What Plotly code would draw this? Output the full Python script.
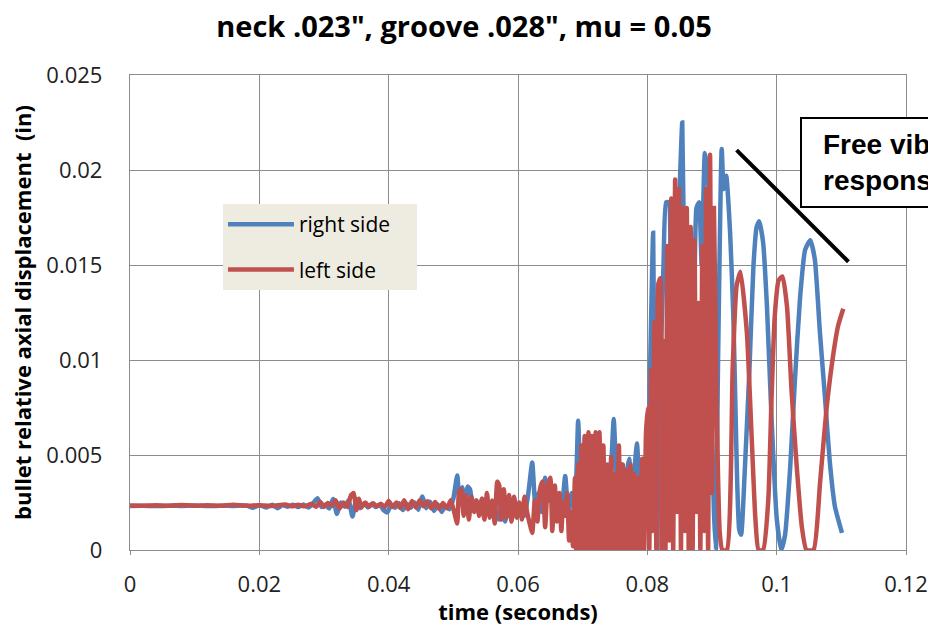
import plotly.graph_objects as go

# ---------------- data (time in s, displacement in in) ----------------
right_side = [
    (0.0000,0.00232),(0.0020,0.00233),(0.0040,0.00231),(0.0060,0.00233),(0.0080,0.00232),(0.0100,0.00234),
    (0.0120,0.00231),(0.0140,0.00233),(0.0160,0.00232),(0.0180,0.00234),(0.0190,0.00222),(0.0200,0.00236),
    (0.0210,0.00224),(0.0220,0.00238),(0.0228,0.00220),(0.0236,0.00236),(0.0244,0.00228),(0.0252,0.00238),
    (0.0260,0.00226),(0.0268,0.00240),(0.0276,0.00224),(0.0284,0.00250),(0.0290,0.00272),(0.0296,0.00226),
    (0.0302,0.00240),(0.0308,0.00218),(0.0314,0.00268),(0.0320,0.00190),(0.0326,0.00250),(0.0332,0.00228),
    (0.0338,0.00262),(0.0344,0.00176),(0.0350,0.00268),(0.0356,0.00220),(0.0362,0.00246),(0.0368,0.00224),
    (0.0374,0.00244),(0.0380,0.00226),(0.0386,0.00240),(0.0392,0.00210),(0.0398,0.00198),(0.0404,0.00240),
    (0.0410,0.00222),(0.0416,0.00246),(0.0422,0.00210),(0.0428,0.00244),(0.0434,0.00222),(0.0440,0.00250),
    (0.0446,0.00212),(0.0452,0.00282),(0.0458,0.00220),(0.0464,0.00254),(0.0470,0.00206),(0.0476,0.00240),
    (0.0482,0.00200),(0.0488,0.00232),(0.0494,0.00214),(0.0500,0.00270),(0.0506,0.00392),(0.0510,0.00240),
    (0.0514,0.00330),(0.0518,0.00200),(0.0522,0.00334),(0.0526,0.00318),(0.0530,0.00220),(0.0535,0.00260),
    (0.0540,0.00194),(0.0545,0.00270),(0.0550,0.00220),(0.0555,0.00250),(0.0560,0.00180),(0.0565,0.00210),
    (0.0570,0.00160),(0.0575,0.00272),(0.0580,0.00150),(0.0585,0.00230),(0.0590,0.00160),(0.0595,0.00260),
    (0.0600,0.00200),(0.0605,0.00230),(0.0610,0.00180),(0.0616,0.00300),(0.0622,0.00460),(0.0627,0.00230),
    (0.0632,0.00300),(0.0637,0.00200),(0.0642,0.00380),(0.0647,0.00260),(0.0652,0.00320),(0.0657,0.00180),
    (0.0662,0.00280),(0.0667,0.00200),(0.0673,0.00390),(0.0678,0.00180),(0.0683,0.00300),(0.0688,0.00250),
    (0.0693,0.00680),(0.0697,0.00350),(0.0701,0.00450),(0.0705,0.00200),(0.0709,0.00400),(0.0713,0.00250),
    (0.0717,0.00420),(0.0721,0.00200),(0.0725,0.00450),(0.0729,0.00550),(0.0733,0.00220),(0.0737,0.00400),
    (0.0741,0.00180),(0.0745,0.00500),(0.0748,0.00690),(0.0752,0.00400),(0.0756,0.00200),(0.0760,0.00450),
    (0.0764,0.00150),(0.0768,0.00400),(0.0772,0.00480),(0.0776,0.00250),(0.0780,0.00420),(0.0784,0.00560),
    (0.0788,0.00300),(0.0792,0.00100),(0.0796,0.00320),(0.0800,0.00220),(0.0804,0.00900),(0.0809,0.01670),
    (0.0812,0.00400),(0.0815,0.00000),(0.0819,0.00800),(0.0825,0.01500),(0.0829,0.01830),(0.0833,0.01830),
    (0.0836,0.01200),(0.0839,0.01800),(0.0843,0.00800),(0.0847,0.01600),(0.0851,0.02000),(0.0854,0.02250),
    (0.0858,0.01200),(0.0863,0.00400),(0.0868,0.00000),(0.0872,0.01000),(0.0876,0.01800),(0.0880,0.01830),
    (0.0884,0.01500),(0.0889,0.02090),(0.0894,0.01950),(0.0898,0.00900),(0.0903,0.00200),(0.0906,0.00000),
    (0.0909,0.00900),(0.0915,0.02110),(0.0918,0.01900),(0.0922,0.01970),(0.0928,0.01670),(0.0933,0.01230),
    (0.0936,0.00790),(0.0939,0.00350),(0.0942,0.00110),(0.0945,0.00080),(0.0951,0.00440),(0.0958,0.00960),
    (0.0964,0.01490),(0.0969,0.01700),(0.0973,0.01730),(0.0979,0.01620),(0.0985,0.01280),(0.0992,0.00700),
    (0.1000,0.00170),(0.1007,0.00000),(0.1013,0.00080),(0.1021,0.00440),(0.1028,0.00880),(0.1036,0.01320),
    (0.1044,0.01580),(0.1052,0.01630),(0.1059,0.01530),(0.1067,0.01140),(0.1075,0.00790),(0.1082,0.00470),
    (0.1090,0.00230),(0.1101,0.00090),
]

left_side = [
    (0.0000,0.00234),(0.0020,0.00233),(0.0040,0.00236),(0.0060,0.00233),(0.0080,0.00237),(0.0100,0.00233),
    (0.0120,0.00236),(0.0140,0.00233),(0.0160,0.00238),(0.0180,0.00233),(0.0200,0.00236),(0.0220,0.00232),
    (0.0240,0.00240),(0.0250,0.00230),(0.0260,0.00238),(0.0270,0.00230),(0.0280,0.00242),(0.0288,0.00228),
    (0.0294,0.00254),(0.0300,0.00226),(0.0306,0.00248),(0.0312,0.00232),(0.0318,0.00262),(0.0324,0.00218),
    (0.0330,0.00250),(0.0336,0.00226),(0.0342,0.00290),(0.0346,0.00300),(0.0350,0.00210),(0.0354,0.00270),
    (0.0358,0.00224),(0.0364,0.00250),(0.0370,0.00228),(0.0376,0.00246),(0.0382,0.00230),(0.0388,0.00244),
    (0.0394,0.00226),(0.0400,0.00258),(0.0406,0.00226),(0.0412,0.00250),(0.0418,0.00220),(0.0424,0.00262),
    (0.0430,0.00214),(0.0436,0.00258),(0.0442,0.00224),(0.0448,0.00262),(0.0454,0.00230),(0.0460,0.00256),
    (0.0466,0.00218),(0.0472,0.00252),(0.0478,0.00216),(0.0484,0.00248),(0.0490,0.00220),(0.0496,0.00262),
    (0.0502,0.00190),(0.0506,0.00140),(0.0509,0.00310),(0.0512,0.00320),(0.0516,0.00180),(0.0520,0.00290),
    (0.0524,0.00160),(0.0528,0.00280),(0.0532,0.00200),(0.0536,0.00260),(0.0540,0.00180),(0.0544,0.00270),
    (0.0548,0.00160),(0.0552,0.00300),(0.0556,0.00170),(0.0560,0.00260),(0.0564,0.00140),(0.0568,0.00360),
    (0.0571,0.00340),(0.0574,0.00160),(0.0578,0.00320),(0.0582,0.00170),(0.0586,0.00290),(0.0590,0.00150),
    (0.0594,0.00280),(0.0598,0.00170),(0.0602,0.00250),(0.0606,0.00160),(0.0610,0.00280),(0.0614,0.00200),
    (0.0618,0.00140),(0.0622,0.00090),(0.0626,0.00260),(0.0630,0.00150),(0.0634,0.00320),(0.0638,0.00360),
    (0.0642,0.00120),(0.0646,0.00340),(0.0650,0.00380),(0.0653,0.00100),(0.0657,0.00340),(0.0660,0.00150),
    (0.0664,0.00300),(0.0667,0.00100),(0.0670,0.00250),(0.0673,0.00180),(0.0676,0.00300),(0.0679,0.00050),
    (0.0682,0.00200),(0.0685,0.00020),(0.0688,0.00380),(0.0690,0.00000),(0.0693,0.00450),(0.0695,0.00000),
    (0.0698,0.00550),(0.0700,0.00000),(0.0703,0.00600),(0.0706,0.00000),(0.0709,0.00620),(0.0711,0.00000),
    (0.0714,0.00600),(0.0717,0.00000),(0.0720,0.00620),(0.0723,0.00000),(0.0726,0.00620),(0.0729,0.00000),
    (0.0732,0.00550),(0.0735,0.00000),(0.0738,0.00450),(0.0741,0.00000),(0.0744,0.00490),(0.0747,0.00000),
    (0.0750,0.00400),(0.0753,0.00000),(0.0756,0.00550),(0.0759,0.00000),(0.0762,0.00450),(0.0765,0.00000),
    (0.0768,0.00420),(0.0771,0.00000),(0.0774,0.00450),(0.0777,0.00000),(0.0780,0.00400),(0.0783,0.00000),
    (0.0786,0.00380),(0.0789,0.00000),(0.0792,0.00480),(0.0795,0.00000),(0.0798,0.00620),(0.0801,0.00750),
    (0.0803,0.00000),(0.0806,0.00950),(0.0808,0.00100),(0.0811,0.01200),(0.0814,0.00000),(0.0817,0.01400),
    (0.0820,0.01430),(0.0822,0.00000),(0.0825,0.01100),(0.0828,0.00000),(0.0831,0.01600),(0.0834,0.00050),
    (0.0837,0.01850),(0.0840,0.00000),(0.0843,0.01950),(0.0846,0.00200),(0.0849,0.01900),(0.0852,0.00000),
    (0.0855,0.01800),(0.0858,0.00100),(0.0861,0.01800),(0.0864,0.00000),(0.0867,0.01700),(0.0870,0.00000),
    (0.0873,0.01630),(0.0876,0.00200),(0.0879,0.01300),(0.0882,0.00000),(0.0885,0.01600),(0.0888,0.00100),
    (0.0891,0.01900),(0.0894,0.00000),(0.0897,0.02080),(0.0900,0.00300),(0.0903,0.01800),(0.0907,0.00790),
    (0.0912,0.00090),(0.0916,0.00000),(0.0923,0.00000),(0.0932,0.00960),(0.0938,0.01390),(0.0944,0.01465),
    (0.0954,0.01140),(0.0961,0.00620),(0.0967,0.00170),(0.0972,0.00000),(0.0979,0.00000),(0.0987,0.00260),
    (0.0992,0.00790),(0.0997,0.01230),(0.1003,0.01420),(0.1009,0.01440),(0.1016,0.01280),(0.1023,0.00840),
    (0.1031,0.00440),(0.1039,0.00120),(0.1046,0.00000),(0.1057,0.00000),(0.1067,0.00350),(0.1077,0.00740),
    (0.1088,0.01040),(0.1095,0.01180),(0.1103,0.01270),
]

series_names = ["right side", "left side"]
x_tick_vals = [0, 0.02, 0.04, 0.06, 0.08, 0.10, 0.12]
x_tick_text = ["0", "0.02", "0.04", "0.06", "0.08", "0.1", "0.12"]
y_tick_vals = [0, 0.005, 0.010, 0.015, 0.020, 0.025]
y_tick_text = ["0", "0.005", "0.01", "0.015", "0.02", "0.025"]

title_text = 'neck .023", groove .028", mu = 0.05'
x_title = "time (seconds)"
y_title = "bullet relative axial displacement\u00a0\u00a0(in)"
note_text = "Free vibration<br>response"
pointer_line = [(0.0938, 0.02105), (0.1111, 0.01517)]

BLUE = "#4F81BD"
RED = "#C0504D"
GRID = "#8C8C8C"
PAD = "\u00a0" * 4  # right padding inside the legend box

rt = [p[0] for p in right_side]
ry = [p[1] for p in right_side]
lt = [p[0] for p in left_side]
ly = [p[1] for p in left_side]

fig = go.Figure()
fig.add_trace(go.Scatter(x=rt, y=ry, mode="lines", name=series_names[0] + PAD,
                         line=dict(color=BLUE, width=4.5, shape="spline", smoothing=0.5),
                         legendgroup="r"))
fig.add_trace(go.Scatter(x=lt, y=ly, mode="lines", name=series_names[1] + PAD,
                         line=dict(color=RED, width=4.5, shape="spline", smoothing=0.5),
                         legendgroup="l"))

fig.update_layout(
    width=928, height=626,
    margin=dict(l=130, r=22, t=75, b=76, autoexpand=False),
    paper_bgcolor="white", plot_bgcolor="white",
    title=dict(text=title_text, x=0.5, xanchor="center", y=0.957, yanchor="middle",
               font=dict(family="Open Sans", size=29, color="black", weight="bold")),
    showlegend=True,
    legend=dict(x=0.1198, y=0.7284, xanchor="left", yanchor="top",
                bgcolor="#EEECE1", borderwidth=0,
                font=dict(family="Open Sans", size=21, color="black"),
                itemwidth=66, tracegroupgap=15),
    font=dict(family="Open Sans", color="#222222"),
)

fig.update_xaxes(range=[0, 0.12], tickvals=x_tick_vals, ticktext=x_tick_text,
                 automargin=False,
                 showgrid=True, gridcolor=GRID, gridwidth=1.3,
                 showline=True, linecolor=GRID, linewidth=1.3, mirror=True,
                 ticks="outside", ticklen=4, tickcolor=GRID, zeroline=False,
                 tickfont=dict(family="Open Sans", size=22, color="#222222"),
                 ticklabelstandoff=10,
                 title=dict(text=x_title, standoff=8,
                            font=dict(family="Open Sans", size=22, color="black", weight="bold")))
fig.update_yaxes(range=[0, 0.025], tickvals=y_tick_vals, ticktext=y_tick_text,
                 automargin=False,
                 showgrid=True, gridcolor=GRID, gridwidth=1.3,
                 showline=True, linecolor=GRID, linewidth=1.3, mirror=True,
                 ticks="", zeroline=False,
                 tickfont=dict(family="Open Sans", size=22, color="#222222"),
                 ticklabelstandoff=22,
                 title=dict(text=y_title, standoff=8,
                            font=dict(family="Open Sans", size=22, color="black", weight="bold")))

# pointer line
fig.add_shape(type="line", xref="x", yref="y",
              x0=pointer_line[0][0], y0=pointer_line[0][1],
              x1=pointer_line[1][0], y1=pointer_line[1][1],
              line=dict(color="black", width=4))
# annotation box (extends past the right edge, like the original)
fig.add_shape(type="rect", xref="paper", yref="paper",
              x0=0.8647, x1=1.15, y0=0.7221, y1=0.9095,
              line=dict(color="black", width=2), fillcolor="white", layer="above")
fig.add_annotation(xref="paper", yref="paper", x=0.8905, y=0.815,
                   xanchor="left", yanchor="middle", align="left",
                   text=note_text, showarrow=False,
                   font=dict(family="Liberation Sans", size=28, color="black", weight="bold"))

fig.write_html("out.html")
